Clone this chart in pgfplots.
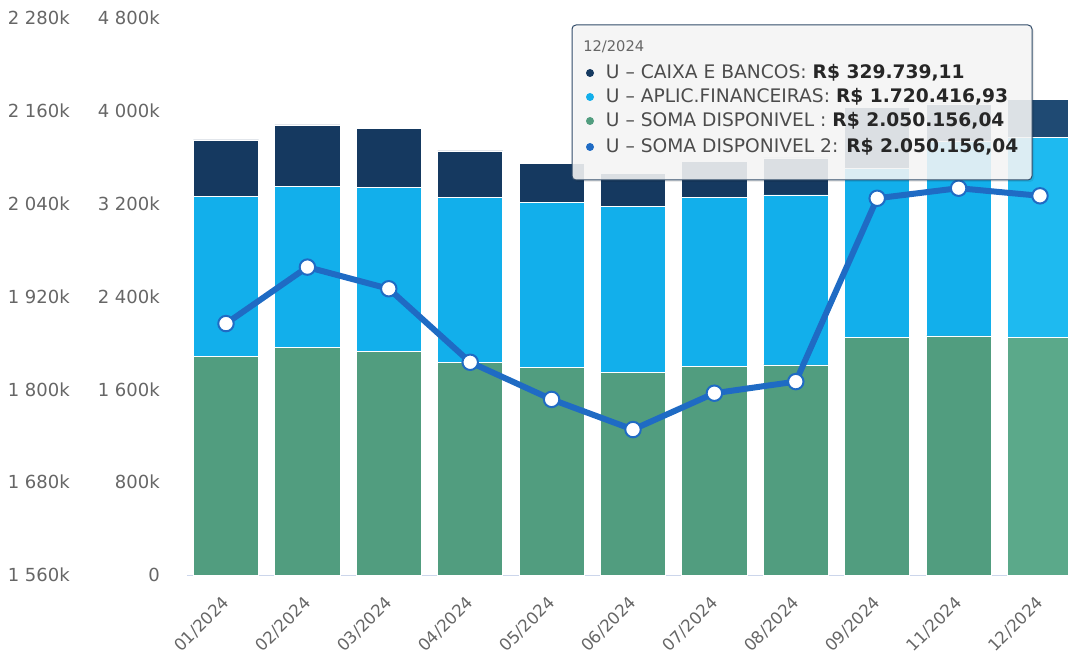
\documentclass[border=0pt]{standalone}
\usepackage{pgfplots}
\pgfplotsset{compat=1.18}
\usepackage{fontspec}
\setmainfont{DejaVu Sans}

\definecolor{cxnavy}{RGB}{21,57,96}
\definecolor{aplblue}{RGB}{18,175,235}
\definecolor{somagreen}{RGB}{81,157,127}
\definecolor{cxnavyhi}{RGB}{31,74,115}
\definecolor{aplbluehi}{RGB}{30,186,240}
\definecolor{somagreenhi}{RGB}{91,169,138}
\definecolor{lineblue}{RGB}{31,107,196}
\definecolor{axisgray}{RGB}{204,214,235}
\definecolor{tickgray}{RGB}{102,102,102}

\begin{document}
\begin{tikzpicture}
\useasboundingbox (-140.25pt,-62.25pt) rectangle (660.75pt,431.25pt);

% bars: 0 .. 4800k (12/2024 is the hovered bar, drawn a little lighter)
\begin{axis}[
    at={(0pt,0pt)}, anchor=south west,
    scale only axis, width=660.75pt, height=417.75pt,
    xmin=-0.479, xmax=10.344,
    ymin=0, ymax=4800,
    ybar stacked, bar width=0.8,
    axis line style={draw=none},
    tick style={draw=none},
    xtick={0,1,2,3,4,5,6,7,8,9,10},
    xticklabels={01/2024,02/2024,03/2024,04/2024,05/2024,06/2024,07/2024,08/2024,09/2024,11/2024,12/2024},
    xticklabel style={rotate=45, anchor=north east, font=\fontsize{12.5}{14}\selectfont, text=tickgray, xshift=-9.4pt, yshift=-4.6pt},
    ytick={0,800,1600,2400,3200,4000,4800},
    yticklabels={0,800k,1 600k,2 400k,3 200k,4 000k,4 800k},
    yticklabel style={anchor=east, inner sep=0pt, xshift=-20.25pt, font=\fontsize{13.5}{15}\selectfont, text=tickgray},
]
\addplot[fill=somagreen, draw=white, line width=0.6pt] coordinates {
(0,1885) (1,1958) (2,1930) (3,1835) (4,1787) (5,1748) (6,1795) (7,1810) (8,2047) (9,2060) (10,0)};
\addplot[fill=somagreenhi, draw=white, line width=0.6pt] coordinates {
(0,0) (1,0) (2,0) (3,0) (4,0) (5,0) (6,0) (7,0) (8,0) (9,0) (10,2050.16)};
\addplot[fill=aplblue, draw=white, line width=0.6pt] coordinates {
(0,1381) (1,1394) (2,1411) (3,1416) (4,1427) (5,1426) (6,1460) (7,1465) (8,1460) (9,1680) (10,0)};
\addplot[fill=aplbluehi, draw=white, line width=0.6pt] coordinates {
(0,0) (1,0) (2,0) (3,0) (4,0) (5,0) (6,0) (7,0) (8,0) (9,0) (10,1720.42)};
\addplot[fill=cxnavy, draw=white, line width=0.6pt] coordinates {
(0,483) (1,526) (2,508) (3,403) (4,334) (5,290) (6,307) (7,319) (8,526) (9,319) (10,0)};
\addplot[fill=cxnavyhi, draw=white, line width=0.6pt] coordinates {
(0,0) (1,0) (2,0) (3,0) (4,0) (5,0) (6,0) (7,0) (8,0) (9,0) (10,329.74)};
\draw[axisgray, line width=0.75pt] (rel axis cs:0,0) -- (rel axis cs:1,0);
\end{axis}

% line: 1560k .. 2280k
\begin{axis}[
    at={(0pt,0pt)}, anchor=south west,
    scale only axis, width=660.75pt, height=417.75pt,
    xmin=-0.479, xmax=10.344,
    ymin=1560, ymax=2280,
    axis line style={draw=none},
    tick style={draw=none},
    xtick=\empty,
    ytick={1560,1680,1800,1920,2040,2160,2280},
    yticklabels={1 560k,1 680k,1 800k,1 920k,2 040k,2 160k,2 280k},
    yticklabel style={anchor=east, inner sep=0pt, xshift=-87.75pt, font=\fontsize{13.5}{15}\selectfont, text=tickgray},
]
\addplot[color=lineblue, line width=4.5pt, line join=round, mark=*, mark size=5.8pt,
    mark options={fill=white, draw=lineblue, line width=1.5pt}] coordinates {
(0,1885) (1,1958) (2,1930) (3,1835) (4,1787) (5,1748) (6,1795) (7,1810) (8,2047) (9,2060) (10,2050.16)};
\end{axis}

% tooltip
\fill[black, opacity=0.08, rounded corners=3pt] (290.25pt,294.75pt) rectangle (635.25pt,411pt);
\draw[fill=white!97!black, fill opacity=0.88, draw=cxnavy!75!gray, line width=0.75pt, rounded corners=3pt]
    (288.75pt,296.25pt) rectangle (633.75pt,412.5pt);
\node[anchor=west, inner sep=0pt, text=black!60, font=\fontsize{11}{13}\selectfont] at (297pt,396pt) {12/2024};
\foreach \yy/\cc in {376.5/cxnavy, 358.5/aplblue, 340.5/somagreen, 321/lineblue}
    \fill[\cc] (302.25pt,\yy pt) circle (3pt);
\begin{scope}[every node/.style={anchor=west, inner sep=0pt, text=black!70, font=\fontsize{14}{16}\selectfont}]
\node at (314pt,376.5pt) {U – CAIXA E BANCOS: \textbf{\color{black!85}R\$ 329.739,11}};
\node at (314pt,358.5pt) {U – APLIC.FINANCEIRAS: \textbf{\color{black!85}R\$ 1.720.416,93}};
\node at (314pt,340.5pt) {U – SOMA DISPONIVEL : \textbf{\color{black!85}R\$ 2.050.156,04}};
\node at (314pt,321pt) {U – SOMA DISPONIVEL 2: \textbf{\color{black!85}R\$ 2.050.156,04}};
\end{scope}
\end{tikzpicture}
\end{document}
